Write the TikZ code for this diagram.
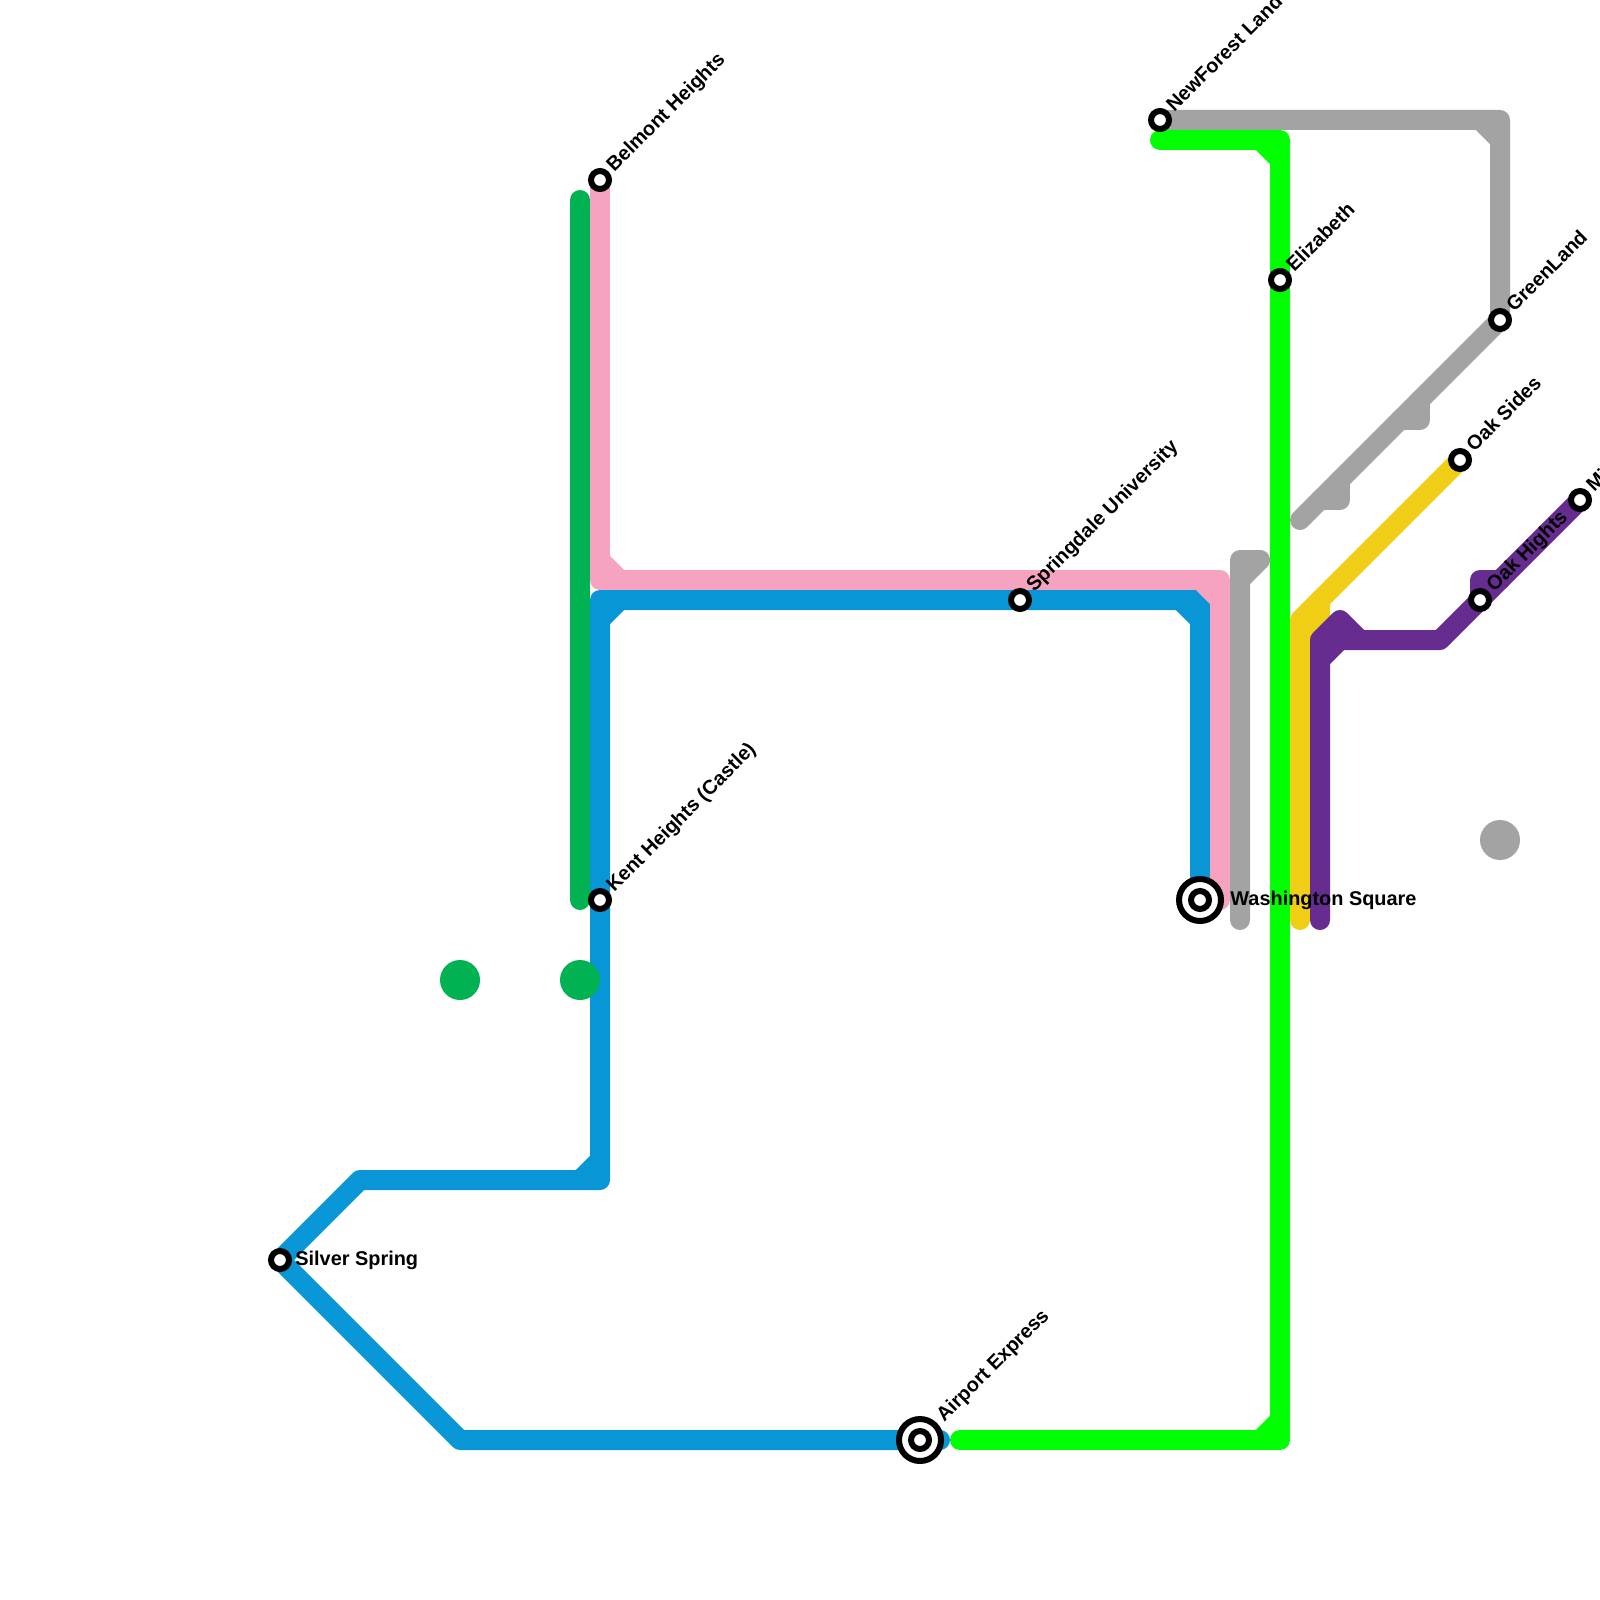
\documentclass[tikz,border=0pt]{standalone}
\usepackage{fontspec}
\setmainfont{Liberation Sans}
\usetikzlibrary{backgrounds}
\definecolor{cgray}{HTML}{A3A3A3}
\definecolor{cgreen}{HTML}{00FF00}
\definecolor{cblue}{HTML}{0896D7}
\definecolor{cpink}{HTML}{F5A3C1}
\definecolor{cdgreen}{HTML}{00B251}
\definecolor{cyellow}{HTML}{F0CE15}
\definecolor{cpurple}{HTML}{662C90}
\tikzset{
  route/.style={line width=10pt,line cap=round,line join=round},
  stn/.style={circle,draw=black,fill=white,line width=3pt,minimum size=9pt,inner sep=0pt},
  hub/.style={circle,draw=black,fill=white,line width=3pt,minimum size=21pt,inner sep=0pt},
  blob/.style={circle,minimum size=20pt,inner sep=0pt},
  lab/.style={font=\bfseries\fontsize{9.95pt}{12pt}\selectfont,anchor=base west,inner sep=0pt,text=black},
  dlab/.style={lab,rotate=45}
}
\begin{document}
\begin{tikzpicture}[x=0.5pt,y=-0.5pt]
\useasboundingbox (0,0) rectangle (1600,1600);
% stations
\node[stn] (belmont) at (600,180) {};
\node[stn] (kent) at (600,900) {};
\node[stn] (silver) at (280,1260) {};
\node[stn] (springdale) at (1020,600) {};
\node[stn] (newforest) at (1160,120) {};
\node[stn] (elizabeth) at (1280,280) {};
\node[stn] (greenland) at (1500,320) {};
\node[stn] (oaksides) at (1460,460) {};
\node[stn] (oakhights) at (1480,600) {};
\node[stn] (mi) at (1580,500) {};
\node[hub] (washo) at (1200,900) {};
\node[stn] (wash) at (1200,900) {};
\node[hub] (airporto) at (920,1440) {};
\node[stn] (airport) at (920,1440) {};
% labels
\node[dlab] (lbelmont) at ([shift={(14,-7)}]belmont.center) {Belmont Heights};
\node[dlab] (lkent) at ([shift={(14,-7)}]kent.center) {Kent Heights (Castle)};
\node[dlab] (lspringdale) at ([shift={(14,-7)}]springdale.center) {Springdale University};
\node[dlab] (lnewforest) at ([shift={(14,-7)}]newforest.center) {NewForest Land};
\node[dlab] (lelizabeth) at ([shift={(14,-7)}]elizabeth.center) {Elizabeth};
\node[dlab] (lgreenland) at ([shift={(14,-7)}]greenland.center) {GreenLand};
\node[dlab] (loaksides) at ([shift={(14,-7)}]oaksides.center) {Oak Sides};
\node[dlab] (loakhights) at ([shift={(14,-7)}]oakhights.center) {Oak Hights};
\node[dlab] (lmi) at ([shift={(14,-7)}]mi.center) {Mi};
\node[dlab] (lairport) at ([shift={(24,-17)}]airport.center) {Airport Express};
\node[lab] (lsilver) at ([shift={(15,5)}]silver.center) {Silver Spring};
\node[lab] (lwash) at ([shift={(30,5)}]wash.center) {Washington Square};
\begin{scope}[on background layer]
% light blue line
\draw[route,cblue] (wash.center) -- (1200,600) -- (600,600) -- (600,1180) -- (360,1180) -- (silver.center) -- (460,1440) -- (airport.center) -- (940,1440);
\draw[route,cblue] (1180,600) -- (1200,620);
\draw[route,cblue] (600,620) -- (620,600);
\draw[route,cblue] (580,1180) -- (600,1160);
% pink line
\draw[route,cpink] (belmont.center) -- (600,580) -- (1220,580) -- (1220,900);
\draw[route,cpink] (600,560) -- (620,580);
\draw[route,cpink] (1200,580) -- (1220,600);
% dark green line
\draw[route,cdgreen] (580,200) -- (580,900);
% grey line
\draw[route,cgray] (newforest.center) -- (1500,120) -- (greenland.center) -- (1300,520);
\draw[route,cgray] (1480,120) -- (1500,140);
\draw[route,cgray] (1320,500) -- (1340,500) -- (1340,480);
\draw[route,cgray] (1400,420) -- (1420,420) -- (1420,400);
\draw[route,cgray] (1240,920) -- (1240,560) -- (1260,560) -- (1240,580);
% bright green line
\draw[route,cgreen] (1160,140) -- (1280,140) -- (elizabeth.center) -- (1280,1440) -- (960,1440);
\draw[route,cgreen] (1260,140) -- (1280,160);
\draw[route,cgreen] (1260,1440) -- (1280,1420);
% yellow line
\draw[route,cyellow] (1300,920) -- (1300,620) -- (oaksides.center);
\draw[route,cyellow] (1320,600) -- (1320,620) -- (1300,640);
% purple line
\draw[route,cpurple] (1320,920) -- (1320,640) -- (1340,620) -- (1360,640) -- (1440,640) -- (mi.center);
\draw[route,cpurple] (1320,660) -- (1340,640) -- (1360,640);
\draw[route,cpurple] (oakhights.center) -- (1480,580) -- (1500,580);
% loose discs
\node[blob,fill=cdgreen] (disca) at (460,980) {};
\node[blob,fill=cdgreen] (discb) at (580,980) {};
\node[blob,fill=cgray] (discc) at (1500,840) {};
\end{scope}
\end{tikzpicture}
\end{document}
